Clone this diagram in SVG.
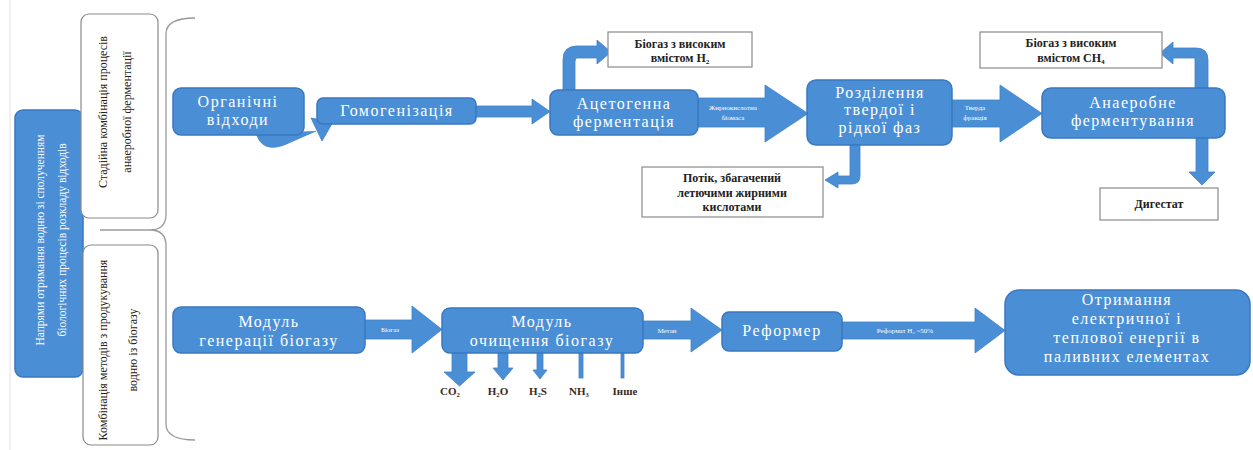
<svg xmlns="http://www.w3.org/2000/svg" width="1253" height="450" viewBox="0 0 1253 450">
<defs>
<style>
.nb{fill:#4a8fd6;stroke:#3a78c0;stroke-width:1.5}
.wb{fill:#ffffff;stroke:#8a8a8a;stroke-width:1.2}
.ar{fill:#4a8fd6;stroke:#3f80c8;stroke-width:0.8}
.nt{font-family:"Liberation Serif","DejaVu Serif",serif;font-size:16px;fill:#ffffff;text-anchor:middle;letter-spacing:1.5px}
.wt{font-family:"Liberation Serif","DejaVu Serif",serif;font-size:12px;font-weight:bold;fill:#222222;text-anchor:middle}
.lt{font-family:"Liberation Serif","DejaVu Serif",serif;font-size:7px;fill:#ffffff;text-anchor:middle}
.rt{font-family:"Liberation Serif","DejaVu Serif",serif;font-size:12px;fill:#222222;text-anchor:middle}
.gt{font-family:"Liberation Serif","DejaVu Serif",serif;font-size:11px;font-weight:bold;fill:#3a2a1e;text-anchor:middle}
</style>
</defs>
<rect x="0" y="0" width="1253" height="450" fill="#ffffff"/>
<line x1="10" y1="0" x2="10" y2="450" stroke="#e2e2e2" stroke-width="1"/>

<g id="main-direction">
<rect class="nb" x="15" y="110" width="68" height="267" rx="8"/>
<text class="nt" style="font-size:11.5px;letter-spacing:0" transform="translate(44,240) rotate(-90)"><tspan x="0" y="0">Напрями отримання водню зі сполученням</tspan><tspan x="0" dy="22">біологічних процесів розкладу відходів</tspan></text>
</g>

<g id="stage-combination">
<rect class="wb" x="81" y="14" width="77" height="204" rx="8"/>
<text class="rt" transform="translate(107,112) rotate(-90)"><tspan x="0" y="0">Стадійна комбінація процесів</tspan><tspan x="0" dy="24">анаеробної ферментації</tspan></text>
</g>

<g id="methods-combination">
<rect class="wb" x="83" y="245" width="75" height="200" rx="8"/>
<text class="rt" transform="translate(107,350) rotate(-90)"><tspan x="0" y="0">Комбінація методів з продукування</tspan><tspan x="0" dy="30">водню із біогазу</tspan></text>
</g>

<g id="brace">
<path d="M195,18 Q166,18 166,34 L166,214 Q166,230 150,230 L100,230 M150,230 Q166,230 166,246 L166,424 Q166,440 195,440" fill="none" stroke="#9a9a9a" stroke-width="1.3"/>
</g>

<g id="connectors">
<path class="ar" d="M256,133 Q262,153 284,145 L316,131" fill="none" stroke="#4a8fd6" stroke-width="10"/>
<polygon class="ar" points="333,122 322,141 311,118"/>
<polygon class="ar" points="475,106 532,106 532,99 550,111.5 532,124 532,117 475,117"/>
<path class="ar" d="M563,90 V60 Q563,46 577,46 H597 V40 L611,52 L597,64 V58 H577 Q575,58 575,62 V90 Z"/>
<polygon class="ar" points="698,98 765,98 765,85 808,113.5 765,142 765,127 698,127"/>
<path class="ar" d="M850,145 V176 H838 V172 L825,180 L838,188 V184 H852 Q860,184 860,176 V145 Z"/>
<polygon class="ar" points="952,100 1000,100 1000,85 1042,113.5 1000,142 1000,127 952,127"/>
<path class="ar" d="M1208,88 V60 Q1208,48 1196,48 H1173 V42 L1160,53 L1173,64 V58 H1195 V88 Z"/>
<polygon class="ar" points="1196,138 1208,138 1208,172 1215,172 1202,185 1189,172 1196,172"/>
<polygon class="ar" points="365,320 412,320 412,306 442,329.5 412,353 412,339 365,339"/>
<polygon class="ar" points="643,321 691,321 691,308 722,330 691,352 691,339 643,339"/>
<polygon class="ar" points="842,322 975,322 975,308 1005,330.5 975,353 975,339 842,339"/>
<polygon class="ar" points="452,352 467,352 467,372 475,372 459.5,386 444,372 452,372"/>
<polygon class="ar" points="498,352 508,352 508,368 513,368 503,380 493,368 498,368"/>
<polygon class="ar" points="537,352 543,352 543,370 547,370 540,379 533,370 537,370"/>
<rect class="ar" x="579" y="352" width="4" height="26"/>
<rect class="ar" x="621" y="352" width="3" height="26"/>
<text class="lt" x="733" y="110">Жирнокислотна</text>
<text class="lt" x="733" y="120">біомаса</text>
<text class="lt" x="975" y="110">Тверда</text>
<text class="lt" x="975" y="120">фракція</text>
<text class="lt" x="390" y="332">Біогаз</text>
<text class="lt" x="667" y="333">Метан</text>
<text class="lt" x="905" y="333">Реформат H₂ ~50%</text>
</g>

<g id="organic-waste">
<rect class="nb" x="173" y="88" width="131" height="47" rx="8"/>
<text class="nt" x="238" y="107">Органічні</text>
<text class="nt" x="238" y="125">відходи</text>
</g>

<g id="homogenization">
<rect class="nb" x="317" y="98" width="159" height="26" rx="6"/>
<text class="nt" x="397" y="116">Гомогенізація</text>
</g>

<g id="acetogenic">
<rect class="nb" x="550" y="90" width="148" height="45" rx="8"/>
<text class="nt" x="624" y="109">Ацетогенна</text>
<text class="nt" x="624" y="127">ферментація</text>
</g>

<g id="biogas-h2">
<rect class="wb" x="608" y="32" width="144" height="35"/>
<text class="wt" x="680" y="48">Біогаз з високим</text>
<text class="wt" x="680" y="62">вмістом H₂</text>
</g>

<g id="separation">
<rect class="nb" x="807" y="80" width="145" height="65" rx="9"/>
<text class="nt" x="880" y="98">Розділення</text>
<text class="nt" x="880" y="115">твердої і</text>
<text class="nt" x="880" y="133">рідкої фаз</text>
</g>

<g id="vfa-stream">
<rect class="wb" x="642" y="167" width="181" height="50"/>
<text class="wt" x="732" y="182">Потік, збагачений</text>
<text class="wt" x="732" y="197">летючими жирними</text>
<text class="wt" x="732" y="211">кислотами</text>
</g>

<g id="anaerobic">
<rect class="nb" x="1042" y="88" width="183" height="50" rx="9"/>
<text class="nt" x="1133" y="108">Анаеробне</text>
<text class="nt" x="1133" y="126">ферментування</text>
</g>

<g id="biogas-ch4">
<rect class="wb" x="980" y="32" width="182" height="36"/>
<text class="wt" x="1071" y="47">Біогаз з високим</text>
<text class="wt" x="1071" y="62">вмістом CH₄</text>
</g>

<g id="digestate">
<rect class="wb" x="1100" y="188" width="118" height="32"/>
<text class="wt" x="1159" y="208">Дигестат</text>
</g>

<g id="biogas-generation">
<rect class="nb" x="173" y="307" width="192" height="46" rx="8"/>
<text class="nt" x="269" y="327">Модуль</text>
<text class="nt" x="269" y="346">генерації біогазу</text>
</g>

<g id="biogas-cleaning">
<rect class="nb" x="442" y="308" width="201" height="45" rx="8"/>
<text class="nt" x="542" y="327">Модуль</text>
<text class="nt" x="542" y="346">очищення біогазу</text>
</g>

<g id="impurities">
<text class="gt" x="450" y="395">CO₂</text>
<text class="gt" x="498" y="395">H₂O</text>
<text class="gt" x="538" y="395">H₂S</text>
<text class="gt" x="579" y="395">NH₃</text>
<text class="gt" x="625" y="395">Інше</text>
</g>

<g id="reformer">
<rect class="nb" x="722" y="312" width="120" height="39" rx="7"/>
<text class="nt" x="782" y="336">Реформер</text>
</g>

<g id="fuel-cells">
<rect class="nb" x="1005" y="290" width="245" height="85" rx="14"/>
<text class="nt" x="1127" y="305">Отримання</text>
<text class="nt" x="1127" y="324">електричної і</text>
<text class="nt" x="1127" y="343">теплової енергії в</text>
<text class="nt" x="1127" y="362">паливних елементах</text>
</g>
</svg>
